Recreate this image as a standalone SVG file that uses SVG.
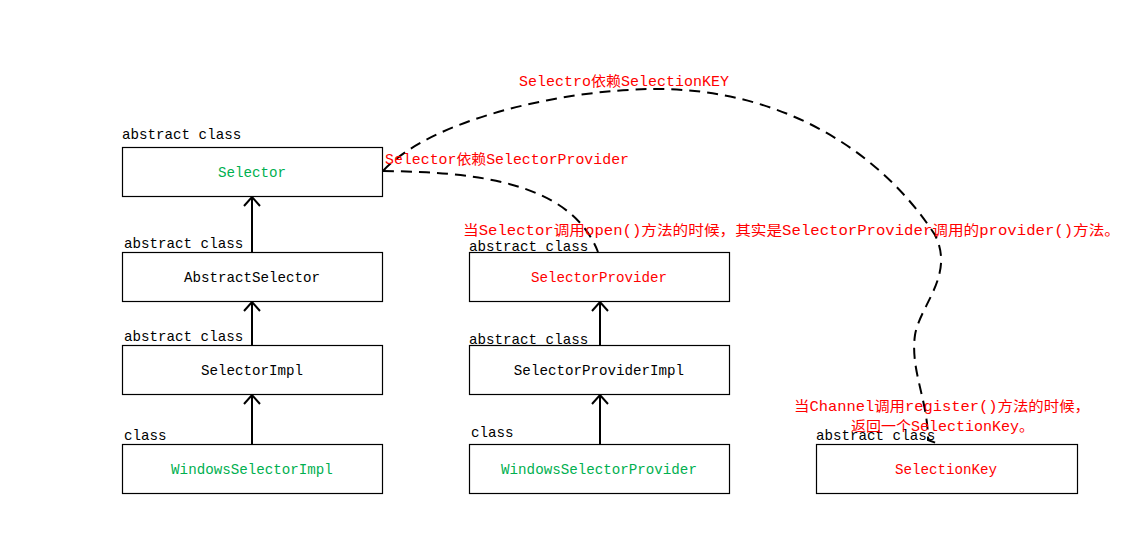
<svg xmlns="http://www.w3.org/2000/svg" width="1133" height="543" viewBox="0 0 1133 543">
<style>
text{font-family:"Liberation Mono","Noto Sans CJK SC",monospace;font-size:14.2px}
.box{fill:#fff;stroke:#000;stroke-width:1.2}
.lbl{fill:#000}
.name{fill:#000;text-anchor:middle}
.g{fill:#00b050;text-anchor:middle}
.r{fill:#ff0000}
.rc{fill:#ff0000;text-anchor:middle}
.inh{stroke:#000;stroke-width:2;fill:none;marker-end:url(#open)}
.dep{stroke:#000;stroke-width:2;fill:none;stroke-dasharray:11 7}
</style>
<defs>
<marker id="open" viewBox="-10 -10 20 20" markerWidth="20" markerHeight="20" markerUnits="userSpaceOnUse" orient="auto" refX="0" refY="0">
<path d="M-9,-8 L0,0 L-9,8" fill="none" stroke="#000" stroke-width="2"/>
</marker>
</defs>
<rect width="1133" height="543" fill="#fff"/>
<g id="connectors">
<line class="inh" x1="252" y1="252" x2="252" y2="197"/>
<line class="inh" x1="252" y1="345" x2="252" y2="302"/>
<line class="inh" x1="252" y1="444" x2="252" y2="395"/>
<line class="inh" x1="600" y1="345" x2="600" y2="302"/>
<line class="inh" x1="600" y1="444" x2="600" y2="395"/>
<path class="dep" d="M383,171 C470,172 570,180 598,252"/>
<path class="dep" d="M383,171 C430,120 560,90 653,89 C780,88 880,150 935,235 C955,275 920,305 915,335 C910,370 928,400 928,440 L936,443"/>
</g>
<g id="selector">
<text class="lbl" x="122" y="139">abstract class</text>
<rect class="box" x="122.5" y="147.5" width="260" height="49"/>
<text class="g" x="252" y="177">Selector</text>
</g>
<g id="abstractselector">
<text class="lbl" x="124" y="248">abstract class</text>
<rect class="box" x="122.5" y="252.5" width="260" height="49"/>
<text class="name" x="252" y="282">AbstractSelector</text>
</g>
<g id="selectorimpl">
<text class="lbl" x="124" y="341">abstract class</text>
<rect class="box" x="122.5" y="345.5" width="260" height="49"/>
<text class="name" x="252" y="375">SelectorImpl</text>
</g>
<g id="windowsselectorimpl">
<text class="lbl" x="124" y="440">class</text>
<rect class="box" x="122.5" y="444.5" width="260" height="49"/>
<text class="g" x="252" y="474">WindowsSelectorImpl</text>
</g>
<g id="selectorprovider">
<text class="lbl" x="469" y="251">abstract class</text>
<rect class="box" x="469.5" y="252.5" width="260" height="49"/>
<text class="rc" x="599" y="282">SelectorProvider</text>
</g>
<g id="selectorproviderimpl">
<text class="lbl" x="469" y="344">abstract class</text>
<rect class="box" x="469.5" y="345.5" width="260" height="49"/>
<text class="name" x="599" y="375">SelectorProviderImpl</text>
</g>
<g id="windowsselectorprovider">
<text class="lbl" x="471" y="437">class</text>
<rect class="box" x="469.5" y="444.5" width="260" height="49"/>
<text class="g" x="599" y="474">WindowsSelectorProvider</text>
</g>
<g id="selectionkey">
<text class="lbl" x="816" y="440">abstract class</text>
<rect class="box" x="816.5" y="444.5" width="261" height="49"/>
<text class="rc" x="946" y="474">SelectionKey</text>
</g>
<g id="notes">
<text class="r" x="519" y="86" textLength="210" lengthAdjust="spacingAndGlyphs">Selectro依赖SelectionKEY</text>
<text class="r" x="385" y="164" textLength="244" lengthAdjust="spacingAndGlyphs">Selector依赖SelectorProvider</text>
<text class="r" x="463" y="235" textLength="657" lengthAdjust="spacingAndGlyphs">当Selector调用open()方法的时候，其实是SelectorProvider调用的provider()方法。</text>
<text class="r" x="794" y="411" textLength="296" lengthAdjust="spacingAndGlyphs">当Channel调用register()方法的时候，</text>
<text class="r" x="851" y="431" textLength="183" lengthAdjust="spacingAndGlyphs">返回一个SelectionKey。</text>
</g>
</svg>
